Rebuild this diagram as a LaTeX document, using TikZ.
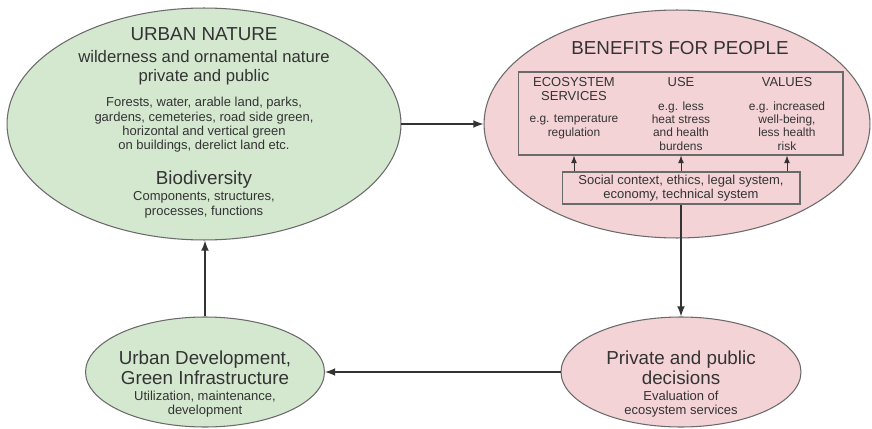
\documentclass[tikz,border=0pt]{standalone}
\usepackage{fontspec}
\setmainfont{Liberation Sans}
\usetikzlibrary{shapes.geometric}
\definecolor{natgreen}{HTML}{D4E8D0}
\definecolor{benpink}{HTML}{F4D3D7}
\definecolor{inkgray}{HTML}{333333}
\definecolor{rimgray}{HTML}{6A6A6A}
\newcommand{\fsz}[2]{\fontsize{#1}{#2}\selectfont}
\tikzset{
  blob/.style={draw=rimgray, ellipse, inner sep=0pt, line width=0.6pt},
  txt/.style={text=inkgray, align=center, inner sep=0pt},
  big/.style={txt, font=\fsz{10.7}{11.4}},
  mid/.style={txt, font=\fsz{9.5}{10.8}},
  small/.style={txt, font=\fsz{7.4}{8.2}},
  tiny/.style={txt, font=\fsz{6.8}{7.6}},
  frame/.style={draw=rimgray, line width=0.6pt, inner sep=0pt},
  flow/.style={draw=inkgray, line width=1pt, ->, >=latex},
  lift/.style={draw=inkgray, line width=0.5pt, ->, >=latex},
}
\begin{document}
\begin{tikzpicture}[x=0.02cm, y=-0.02cm]
\useasboundingbox (0,0) rectangle (872,429);

% ellipses
\node[blob, fill=natgreen, minimum width=7.88cm, minimum height=4.64cm] (un) at (204,124) {};
\node[blob, fill=benpink, minimum width=7.72cm, minimum height=4.56cm] (bfp) at (677,124) {};
\node[blob, fill=natgreen, minimum width=4.78cm, minimum height=2.2cm] (ud) at (205,372) {};
\node[blob, fill=benpink, minimum width=4.8cm, minimum height=2.2cm] (pd) at (681,372) {};

% urban nature
\node[big] (unTitle) at (204,34) {URBAN NATURE};
\node[mid] (unSub) at (204,68) {wilderness and ornamental nature\\private and public};
\node[small] (unList) at (204,125) {Forests, water, arable land, parks,\\gardens, cemeteries, road side green,\\horizontal and vertical green\\on buildings, derelict land etc.};
\node[big] (bio) at (204,180) {Biodiversity};
\node[small] (bioList) at (204,205) {Components, structures,\\processes, functions};

% benefits for people
\node[big] (bfpTitle) at (680,48) {BENEFITS FOR PEOPLE};
\node[frame, minimum width=6.5cm, minimum height=1.66cm] (box) at (680.5,113.5) {};
\node[small, anchor=north] (hEco) at (574,77) {ECOSYSTEM\\SERVICES};
\node[small, anchor=north] (hUse) at (681,77) {USE};
\node[small, anchor=north] (hVal) at (787,77) {VALUES};
\node[tiny] (dEco) at (574,127) {e.g. temperature\\regulation};
\node[tiny] (dUse) at (681,126) {e.g. less\\heat stress\\and health\\burdens};
\node[tiny] (dVal) at (787,126) {e.g. increased\\well-being,\\less health\\risk};
\node[frame, small, minimum width=4.76cm, minimum height=0.64cm] (soc) at (681,188) {Social context, ethics, legal system,\\economy, technical system};

% lower ellipses
\node[big] (udTitle) at (205,368) {Urban Development,\\Green Infrastructure};
\node[small] (udSub) at (205,404) {Utilization, maintenance,\\development};
\node[big] (pdTitle) at (681,368) {Private and public\\decisions};
\node[small] (pdSub) at (681,404) {Evaluation of\\ecosystem services};

% connectors
\path[flow] (un) -- (bfp);
\path[flow] (soc.south) -- (pd.north);
\path[flow] (pd) -- (ud);
\path[flow] (ud.north) -- (ud.north |- un.south);
\foreach \col in {hEco,hUse,hVal}
  \path[lift] (soc.north -| \col) -- (\col |- box.south);
\end{tikzpicture}
\end{document}
